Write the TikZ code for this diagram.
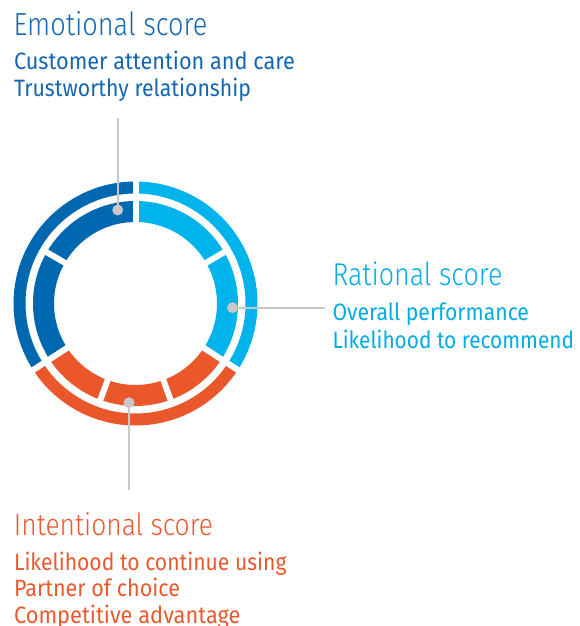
\documentclass[tikz,border=0pt]{standalone}
\usepackage{graphicx}
\usepackage{fontspec}
\setmainfont{Fira Sans}
\newfontfamily\titlefont{Fira Sans Light}
\definecolor{emoring}{RGB}{0,103,177}
\definecolor{ratring}{RGB}{0,180,235}
\definecolor{intring}{RGB}{233,87,42}
\definecolor{emotext}{RGB}{20,102,178}
\definecolor{rattext}{RGB}{0,172,228}
\definecolor{inttext}{RGB}{232,90,45}
\definecolor{conn}{RGB}{200,200,200}
\newcommand\fitline[4]{%
  \pgfmathsetmacro\fitsz{#2/0.689}%
  \setbox0=\hbox{#1\fontsize{\fitsz pt}{\fitsz pt}\selectfont #4}%
  \pgfmathsetmacro\fitsx{#3/\the\wd0}%
  \scalebox{\fitsx}[1]{\box0}}
\tikzset{
  outerband/.style={line width=12pt},
  innerband/.style={line width=21pt},
  gapline/.style={white,line width=6pt},
  connline/.style={conn,line width=2.3pt},
  conndot/.style={circle,fill=conn,inner sep=0pt,minimum size=10.6pt},
  txt/.style={anchor=base west,inner sep=0pt,outer sep=0pt}
}
\begin{document}
\begin{tikzpicture}[x=1pt,y=1pt]
\useasboundingbox (0,0) rectangle (579,-626);
\coordinate (C) at (135.5,-303.5);
% outer ring
\draw[outerband,emoring] ([shift={(90:116)}]C) arc[start angle=90,end angle=213,radius=116];
\draw[outerband,intring] ([shift={(213:116)}]C) arc[start angle=213,end angle=327,radius=116];
\draw[outerband,ratring] ([shift={(-33:116)}]C) arc[start angle=-33,end angle=90,radius=116];
% inner ring
\draw[innerband,emoring] ([shift={(90:92)}]C) arc[start angle=90,end angle=213,radius=92];
\draw[innerband,intring] ([shift={(213:92)}]C) arc[start angle=213,end angle=327,radius=92];
\draw[innerband,ratring] ([shift={(-33:92)}]C) arc[start angle=-33,end angle=90,radius=92];
% gaps
\foreach \a in {90,213,327}
  \draw[gapline] ([shift={(\a:74)}]C) -- ([shift={(\a:128)}]C);
\foreach \a in {150,250,290,30}
  \draw[gapline] ([shift={(\a:74)}]C) -- ([shift={(\a:106)}]C);
% connectors
\coordinate (emoEnd) at (117.7,-118.3);
\node[conndot] (emoDot) at (117.7,-210) {};
\draw[connline] (emoEnd) -- (emoDot.center);
\node[conndot] at (emoDot) {};
\coordinate (ratEnd) at (325,-307.7);
\node[conndot] (ratDot) at (232.5,-307.7) {};
\draw[connline] (ratDot.center) -- (ratEnd);
\node[conndot] at (ratDot) {};
\coordinate (intEnd) at (129,-490);
\node[conndot] (intDot) at (129,-402.7) {};
\draw[connline] (intDot.center) -- (intEnd);
\node[conndot] at (intDot) {};
% texts
\node[txt,text=emotext] (emoTitle) at (13.5,-36) {\fitline{\titlefont}{22}{194}{Emotional score}};
\node[txt,text=emotext] (emoL1) at (14,-70) {\fitline{}{16.3}{281}{Customer attention and care}};
\node[txt,text=emotext] (emoL2) at (14,-96.7) {\fitline{}{16.3}{237}{Trustworthy relationship}};
\node[txt,text=rattext] (ratTitle) at (332.5,-285) {\fitline{\titlefont}{21.7}{170}{Rational score}};
\node[txt,text=rattext] (ratL1) at (332.5,-320) {\fitline{}{16.3}{196.5}{Overall performance}};
\node[txt,text=rattext] (ratL2) at (332.5,-348.3) {\fitline{}{16.3}{241.5}{Likelihood to recommend}};
\node[txt,text=inttext] (intTitle) at (14,-535) {\fitline{\titlefont}{21}{199}{Intentional score}};
\node[txt,text=inttext] (intL1) at (14,-570) {\fitline{}{16.3}{272.5}{Likelihood to continue using}};
\node[txt,text=inttext] (intL2) at (14,-596.7) {\fitline{}{16.3}{166}{Partner of choice}};
\node[txt,text=inttext] (intL3) at (14,-623) {\fitline{}{16.3}{226.5}{Competitive advantage}};
\end{tikzpicture}
\end{document}
